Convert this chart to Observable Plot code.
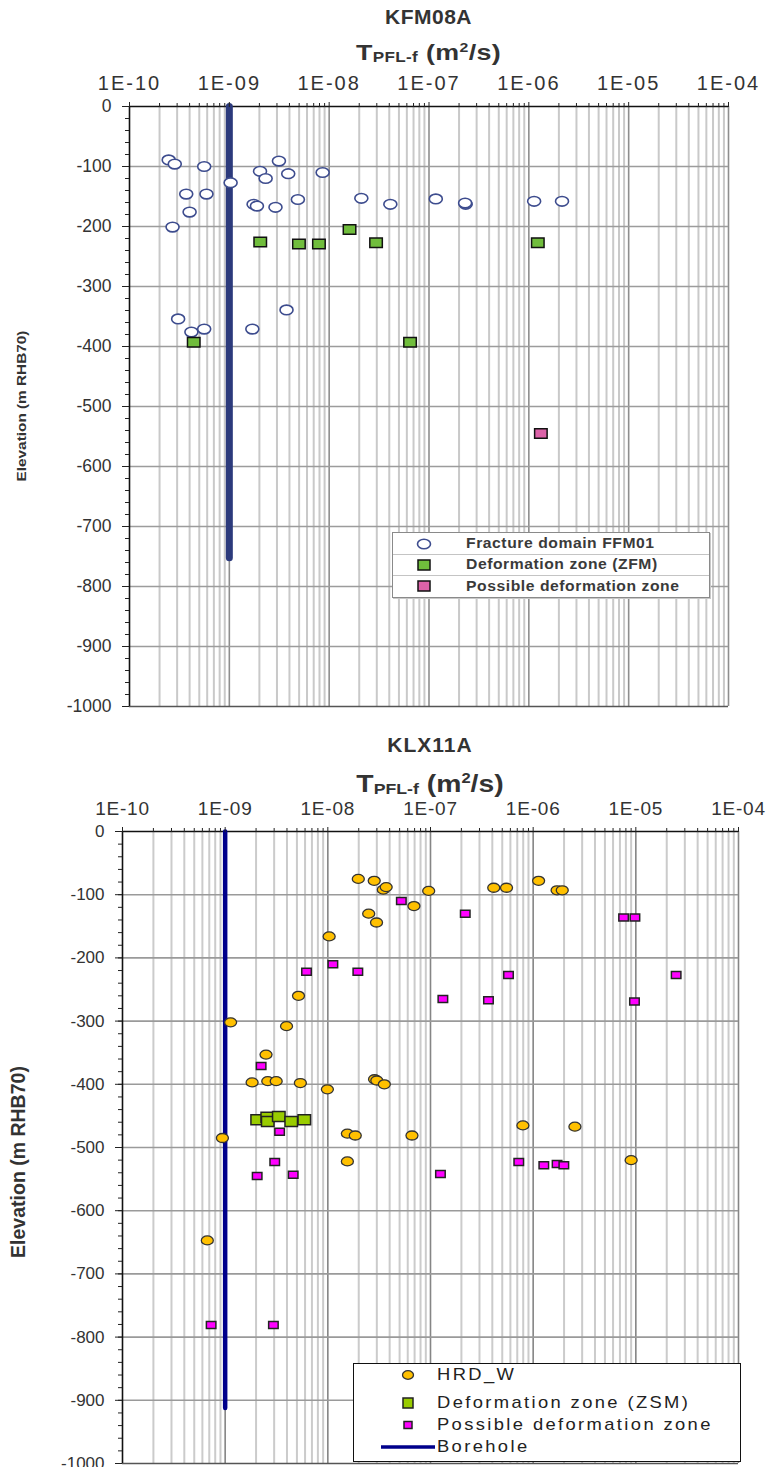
<!DOCTYPE html>
<html><head><meta charset="utf-8">
<script src="https://cdn.jsdelivr.net/npm/d3@7"></script>
<script src="https://cdn.jsdelivr.net/npm/@observablehq/plot@0.6"></script>
<style>
body{margin:0;background:#fff;}
#page{position:relative;width:771px;height:1467px;overflow:hidden;font-family:"Liberation Sans",Arial,sans-serif;background:#fff;}
.abs{position:absolute;white-space:nowrap;}
.chart{position:absolute;left:0;}
.chart svg{display:block;overflow:visible;}
.ttl{font-weight:bold;text-align:center;color:#333;transform-origin:50% 50%;}
.ylab{font-weight:bold;text-align:center;color:#333;transform-origin:50% 50%;}
.leg1{border:1.5px solid #8a8a8a;background:#fff;box-shadow:1px 1px 0 #c8c8c8;}
.leg1 .row{position:absolute;left:0;right:0;height:21px;border-bottom:1px solid #c4c4c4;}
.leg1 .row:last-child{border-bottom:none;}
.leg1 .txt{position:absolute;left:73px;top:0;line-height:21px;font-weight:bold;font-size:14px;color:#3a3a3a;letter-spacing:0.5px;white-space:nowrap;transform:scaleX(1.12);transform-origin:0 50%;}
.leg1 svg,.leg2 svg{position:absolute;}
.leg2{border:1.5px solid #111;background:#fff;}
.leg2 .txt{position:absolute;left:83px;font-size:17px;color:#222;letter-spacing:2.2px;white-space:nowrap;transform:scaleX(1.08);transform-origin:0 50%;}
</style></head>
<body><div id="page">
<div id="c1" class="chart" style="top:0"></div>
<div id="c2" class="chart" style="top:725px"></div>
</div>
<script>
// ---------- axis ticks ----------
const xDecades = [1e-10, 1e-9, 1e-8, 1e-7, 1e-6, 1e-5, 1e-4];
const xTickLabels = ["1E-10", "1E-09", "1E-08", "1E-07", "1E-06", "1E-05", "1E-04"];
const xMinorMult = [2, 3, 4, 5, 6, 7, 8, 9];
const yMajor = [0, -100, -200, -300, -400, -500, -600, -700, -800, -900, -1000];
const yMinorStep = 20;

// ---------- KFM08A ----------
const ffmT = [2.47e-10, 2.84e-10, 5.6e-10, 3.7e-10, 5.9e-10, 4.0e-10, 2.7e-10, 1.03e-9, 2.03e-9, 3.14e-9, 2.31e-9, 3.89e-9, 8.6e-9, 1.75e-9, 1.89e-9, 2.9e-9, 4.86e-9, 2.1e-8, 4.1e-8, 1.17e-7, 2.33e-7, 2.3e-7, 1.13e-6, 2.15e-6, 3.07e-10, 4.17e-10, 5.6e-10, 1.7e-9, 3.74e-9];
const ffmElev = [-89, -96, -100, -146, -146, -176, -201, -127, -108, -91, -120, -112, -110, -163, -166, -168, -155, -153, -163, -154, -163, -161, -158, -158, -354, -376, -371, -371, -339];
const zfmT = [2.04e-9, 4.98e-9, 7.9e-9, 1.6e-8, 2.95e-8, 1.23e-6, 4.4e-10, 6.46e-8];
const zfmElev = [-226, -229, -229, -205, -227, -227, -393, -393];
const poss1T = [1.32e-6];
const poss1Elev = [-545];
const bh1T = [1e-9, 1e-9];
const bh1Elev = [0, -752];

// ---------- KLX11A ----------
const hrdT = [1.98e-8, 2.83e-8, 3.47e-8, 3.7e-8, 9.6e-8, 2.5e-8, 2.98e-8, 6.9e-8, 1.03e-8, 5.18e-9, 1.13e-9, 3.96e-9, 2.5e-9, 1.83e-9, 2.6e-9, 3.14e-9, 5.4e-9, 9.9e-9, 2.85e-8, 3.0e-8, 3.55e-8, 4.13e-7, 5.5e-7, 1.13e-6, 1.71e-6, 1.92e-6, 9.4e-10, 1.55e-8, 1.85e-8, 6.6e-8, 1.55e-8, 7.94e-7, 2.55e-6, 9.0e-6, 6.7e-10];
const hrdElev = [-75, -78, -92, -88, -94, -130, -144, -118, -166, -260, -302, -308, -353, -397, -395, -395, -398, -408, -392, -394, -400, -89, -89, -78, -93, -93, -485, -478, -481, -481, -522, -465, -467, -520, -647];
const zsmT = [2.05e-9, 2.57e-9, 2.6e-9, 3.33e-9, 4.4e-9, 5.9e-9];
const zsmElev = [-456, -452, -459, -451, -459, -456];
const poss2T = [5.2e-8, 6.2e-9, 1.12e-8, 1.96e-8, 1.32e-7, 2.24e-9, 2.18e-7, 7.6e-6, 9.8e-6, 5.75e-7, 2.47e-5, 3.67e-7, 9.7e-6, 3.39e-9, 3.04e-9, 2.05e-9, 4.6e-9, 1.25e-7, 7.24e-7, 1.27e-6, 1.71e-6, 1.99e-6, 7.3e-10, 2.95e-9];
const poss2Elev = [-110, -222, -210, -222, -265, -371, -130, -136, -136, -227, -227, -267, -269, -475, -523, -545, -543, -542, -523, -528, -526, -528, -781, -781];
const bh2T = [1e-9, 1e-9];
const bh2Elev = [0, -912];

// ---------- symbols ----------
function ellipseSym(rx, ry) {
  const k = 0.5523;
  return {draw(c) {
    c.moveTo(rx, 0);
    c.bezierCurveTo(rx, ry * k, rx * k, ry, 0, ry);
    c.bezierCurveTo(-rx * k, ry, -rx, ry * k, -rx, 0);
    c.bezierCurveTo(-rx, -ry * k, -rx * k, -ry, 0, -ry);
    c.bezierCurveTo(rx * k, -ry, rx, -ry * k, rx, 0);
    c.closePath();
  }};
}
function rectSym(w, h) {
  return {draw(c) { c.rect(-w / 2, -h / 2, w, h); }};
}

const xMinor = xDecades.slice(0, -1).flatMap(d => xMinorMult.map(m => m * d));
const yMinor = d3.range(0, -1000 - 1, -yMinorStep);
const fmtX = d => xTickLabels[xDecades.indexOf(d)];

function spaceText(svg, label, ls) {
  svg.querySelectorAll(`g[aria-label="${label}"]`).forEach(g => { g.style.letterSpacing = ls + "px"; });
}

function baseMarks(o) {
  return [
    Plot.ruleX(xMinor, {stroke: o.minorGrid, strokeWidth: 2}),
    Plot.ruleX(xDecades.slice(1), {stroke: o.majorGrid, strokeWidth: 1.6}),
    Plot.ruleY(yMajor.slice(1, -1), {stroke: o.hGrid, strokeWidth: 1.6}),
    Plot.ruleY([-1000], {stroke: "#555", strokeWidth: 1.6}),
    Plot.ruleY([0], {stroke: "#111", strokeWidth: 1.6}),
    Plot.ruleX([1e-10], {stroke: "#111", strokeWidth: 1.6}),
  ];
}
function axisMarks(o) {
  return [
    Plot.axisX(xMinor, {anchor: "top", tickSize: 4, tickFormat: () => "", label: null, stroke: "#222"}),
    Plot.axisX(xDecades, {anchor: "top", tickSize: 5, tickPadding: o.xPad, tickFormat: fmtX, label: null, stroke: "#222", fontSize: o.xFont, fill: "#333"}),
    Plot.axisY(yMinor, {anchor: "left", tickSize: 4, tickFormat: () => "", label: null, stroke: "#222"}),
    Plot.axisY(yMajor, {anchor: "left", tickSize: 7, tickPadding: 11, tickFormat: d => String(d), label: null, stroke: "#222", fontSize: o.yFont, fill: "#333"}),
  ];
}

// ---------- chart 1 ----------
const p1 = Plot.plot({
  width: 771, height: 725,
  marginLeft: 129, marginRight: 43, marginTop: 106, marginBottom: 19,
  x: {type: "log", domain: [1e-10, 1e-4]},
  y: {domain: [-1000, 0]},
  style: {fontFamily: "'Liberation Sans', Arial, sans-serif", background: "transparent", color: "#333"},
  marks: [
    ...baseMarks({minorGrid: "#c9c9c9", majorGrid: "#8e8e8e", hGrid: "#9c9c9c"}),
    Plot.line(bh1T, {x: bh1T, y: bh1Elev, stroke: "#2c3a7c", strokeWidth: 7}),
    Plot.dot(ffmT, {x: ffmT, y: ffmElev, symbol: ellipseSym(6.5, 4.8), fill: "white", stroke: "#3d4c8e", strokeWidth: 1.6}),
    Plot.dot(zfmT, {x: zfmT, y: zfmElev, symbol: rectSym(12.5, 9.5), fill: "#70bd3c", stroke: "#111", strokeWidth: 1.5}),
    Plot.dot(poss1T, {x: poss1T, y: poss1Elev, symbol: rectSym(12.5, 9.5), fill: "#dc62a8", stroke: "#111", strokeWidth: 1.5}),
    ...axisMarks({xPad: 12, xFont: 20, yFont: 17.5})
  ]
});
document.getElementById("c1").append(p1);
spaceText(p1, "x-axis tick label", 2);

// ---------- chart 2 ----------
const p2 = Plot.plot({
  width: 771, height: 742,
  marginLeft: 122, marginRight: 33, marginTop: 106, marginBottom: 4,
  x: {type: "log", domain: [1e-10, 1e-4]},
  y: {domain: [-1000, 0]},
  style: {fontFamily: "'Liberation Sans', Arial, sans-serif", background: "transparent", color: "#333"},
  marks: [
    ...baseMarks({minorGrid: "#cbcbcb", majorGrid: "#858585", hGrid: "#9a9a9a"}),
    Plot.line(bh2T, {x: bh2T, y: bh2Elev, stroke: "#00008b", strokeWidth: 4.5}),
    Plot.dot(hrdT, {x: hrdT, y: hrdElev, symbol: ellipseSym(6, 4.5), fill: "#ffc000", stroke: "#333", strokeWidth: 1.3}),
    Plot.dot(zsmT, {x: zsmT, y: zsmElev, symbol: rectSym(12.5, 10), fill: "#99cc00", stroke: "#222", strokeWidth: 1.5}),
    Plot.dot(poss2T, {x: poss2T, y: poss2Elev, symbol: rectSym(9.5, 7), fill: "#ff00ff", stroke: "#222", strokeWidth: 1.5}),
    ...axisMarks({xPad: 12, xFont: 19, yFont: 17})
  ]
});
document.getElementById("c2").append(p2);
spaceText(p2, "x-axis tick label", 0.8);

// ---------- titles / labels ----------
const page = document.getElementById("page");
function addDiv(html, cls, css) {
  const d = document.createElement("div");
  d.className = "abs " + cls;
  d.innerHTML = html;
  Object.assign(d.style, css);
  page.append(d);
  return d;
}
const tpfl = s => `T<sub style="font-size:${s.sub}px;vertical-align:-2px">PFL-f</sub> (m<sup style="font-size:${s.sup}px;vertical-align:${s.up}px">2</sup>/s)`;
addDiv("KFM08A", "ttl", {left: "129px", width: "599px", top: "5px", lineHeight: "24px", fontSize: "21px", letterSpacing: "0.5px"});
addDiv(tpfl({sub: 14, sup: 13, up: 8}), "ttl", {left: "129px", width: "599px", top: "35px", lineHeight: "26px", fontSize: "22px", letterSpacing: "0.3px", transform: "scaleX(1.22)"});
addDiv("Elevation (m RHB70)", "ylab", {left: "-78px", width: "200px", top: "397px", lineHeight: "18px", fontSize: "13px", transform: "rotate(-90deg) scaleX(1.18)"});

addDiv("KLX11A", "ttl", {left: "122px", width: "616px", top: "733px", lineHeight: "24px", fontSize: "21px", letterSpacing: "1px"});
addDiv(tpfl({sub: 15, sup: 14, up: 9}), "ttl", {left: "122px", width: "616px", top: "764px", lineHeight: "28px", fontSize: "24px", transform: "scaleX(1.18)"});
addDiv("Elevation (m RHB70)", "ylab", {left: "-102px", width: "240px", top: "1150px", lineHeight: "24px", fontSize: "19.5px", transform: "rotate(-90deg)"});

// ---------- legend 1 ----------
const leg1Items = [
  {label: "Fracture domain FFM01", sym: '<ellipse cx="9" cy="7" rx="6.5" ry="4.8" fill="#fff" stroke="#3d4c8e" stroke-width="1.6"/>'},
  {label: "Deformation zone (ZFM)", sym: '<rect x="3" y="2" width="12" height="10" fill="#70bd3c" stroke="#111" stroke-width="1.5"/>'},
  {label: "Possible deformation zone", sym: '<rect x="3" y="2" width="12" height="10" fill="#dc62a8" stroke="#111" stroke-width="1.5"/>'}
];
const l1 = addDiv("", "leg1", {left: "392px", top: "532px", width: "316px", height: "64px"});
leg1Items.forEach((it, i) => {
  const r = document.createElement("div");
  r.className = "row";
  r.style.top = (i * 21.3) + "px";
  r.innerHTML = `<svg width="18" height="14" style="left:22px;top:3.5px">${it.sym}</svg><div class="txt">${it.label}</div>`;
  l1.append(r);
});

// ---------- legend 2 ----------
const leg2Items = [
  {label: "HRD_W", cy: 11, sym: '<ellipse cx="27" cy="7" rx="5.5" ry="4.3" fill="#ffc000" stroke="#333" stroke-width="1.3"/>'},
  {label: "Deformation zone (ZSM)", cy: 39, sym: '<rect x="22" y="2" width="10" height="10" fill="#99cc00" stroke="#222" stroke-width="1.5"/>'},
  {label: "Possible deformation zone", cy: 61, sym: '<rect x="23" y="3.5" width="8" height="7" fill="#ff00ff" stroke="#222" stroke-width="1.5"/>'},
  {label: "Borehole", cy: 83, sym: '<line x1="0" y1="7" x2="54" y2="7" stroke="#00008b" stroke-width="3.5"/>'}
];
const l2 = addDiv("", "leg2", {left: "353px", top: "1363px", width: "386px", height: "97px"});
leg2Items.forEach(it => {
  const s = document.createElement("div");
  s.innerHTML = `<svg width="56" height="14" style="left:27px;top:${it.cy - 7}px">${it.sym}</svg><div class="txt" style="top:${it.cy - 11}px;line-height:22px">${it.label}</div>`;
  while (s.firstChild) l2.append(s.firstChild);
});
</script>
</body></html>
